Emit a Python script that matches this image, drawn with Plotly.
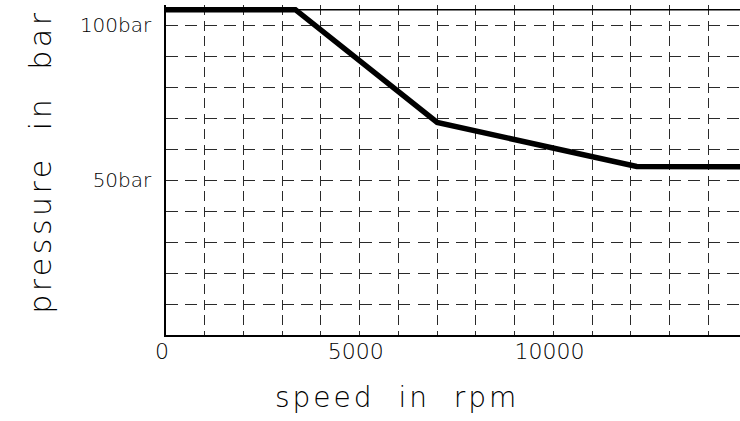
import plotly.graph_objects as go

# data
speed_rpm = [0, 3340, 7000, 12150, 15000]
pressure_bar = [105, 105, 68.6, 54.4, 54.3]

x_tick_vals = [0, 5000, 10000]
x_tick_text = ["0", "5000", "10000"]
y_tick_vals = [50, 100]
y_tick_text = ["50bar", "100bar"]
x_title = "speed\u00a0\u00a0in\u00a0\u00a0rpm"
y_title = "pressure\u00a0\u00a0in\u00a0\u00a0bar"
frame_top = 105

FONT = "DejaVu Sans, sans-serif"
W = 200
GRID = "#2a2a2a"

fig = go.Figure()
fig.add_trace(go.Scatter(
    x=speed_rpm, y=pressure_bar, mode="lines",
    line=dict(color="black", width=5.5), hoverinfo="skip", showlegend=False,
))

fig.update_layout(
    width=740, height=421,
    margin=dict(l=166, r=0, t=5, b=86),
    paper_bgcolor="white", plot_bgcolor="white",
    font=dict(family=FONT, color="black", weight=W),
    showlegend=False,
    xaxis=dict(
        range=[0, 14817], tickvals=x_tick_vals, ticktext=x_tick_text,
        tickfont=dict(size=22, family=FONT, color="black", weight=W),
        ticks="", ticklabelstandoff=-4, ticklabelshift=-4,
        showline=True, linecolor="black", linewidth=1.5, zeroline=False,
        showgrid=True, gridcolor=GRID, gridwidth=1, griddash="10px,5.5px",
        minor=dict(dtick=1000, tick0=0, showgrid=True, gridcolor=GRID,
                   gridwidth=1, griddash="10px,5.5px"),
    ),
    yaxis=dict(
        range=[0, 106.5], tickvals=y_tick_vals, ticktext=y_tick_text,
        tickfont=dict(size=20, family=FONT, color="black", weight=W),
        ticks="", ticklabelstandoff=9,
        showline=True, linecolor="black", linewidth=1.5, zeroline=False,
        showgrid=True, gridcolor=GRID, gridwidth=1, griddash="12px,7.35px",
        minor=dict(dtick=10, tick0=0, showgrid=True, gridcolor=GRID,
                   gridwidth=1, griddash="12px,7.35px"),
    ),
    shapes=[dict(type="line", xref="paper", x0=0, x1=1, yref="y",
                 y0=frame_top, y1=frame_top, line=dict(color="black", width=1.5))],
    annotations=[
        dict(text=x_title, xref="paper", yref="paper", x=0.4033, y=-0.19,
             xanchor="center", yanchor="middle", showarrow=False,
             font=dict(size=28, family=FONT, color="black", weight=W)),
        dict(text=y_title, xref="paper", yref="paper", x=-0.2195, y=0.527,
             xanchor="center", yanchor="middle", showarrow=False, textangle=-90,
             font=dict(size=30, family=FONT, color="black", weight=W)),
    ],
)

post = """
document.body.style.margin = '0';
var ann = document.querySelectorAll('.annotation-text');
if (ann.length > 0) { ann[0].style.letterSpacing = '3px'; }
if (ann.length > 1) { ann[1].style.letterSpacing = '3.5px'; }
"""

fig.write_html("out.html", post_script=post, config={"displayModeBar": False})
